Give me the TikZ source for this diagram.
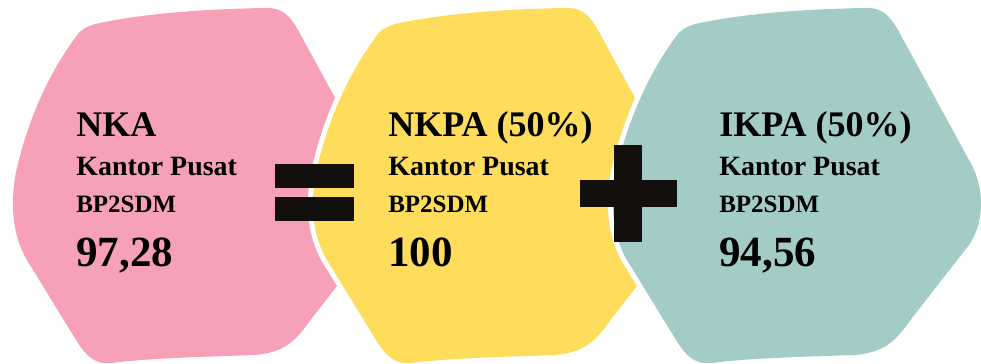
\documentclass[tikz,border=0pt]{standalone}
\usepackage{fontspec}
\setmainfont{Liberation Serif}
\usepackage{xcolor}
\definecolor{nkapink}{HTML}{F7A1B8}
\definecolor{nkpayellow}{HTML}{FEDD5D}
\definecolor{ikpateal}{HTML}{A3CCC6}
\definecolor{opblack}{HTML}{130F0D}
\begin{document}
\begin{tikzpicture}[
  x=0.02cm, y=-0.02cm,
  every node/.style={inner sep=0pt, anchor=base west, text=black},
  blob/.style={fill=#1, preaction={draw=white, line width=5.7pt}},
  ttl/.style={font=\bfseries\fontsize{20.5}{24}\selectfont},
  sub/.style={font=\bfseries\fontsize{15.9}{18}\selectfont},
  unit/.style={font=\bfseries\fontsize{14.2}{17}\selectfont},
  val/.style={font=\bfseries\fontsize{24.5}{29}\selectfont},
  bar/.style={fill=opblack}
]
\useasboundingbox (0,0) rectangle (981,364);

%% hexagon blobs
\foreach \dx/\col in {0/nkapink,300/nkpayellow,600/ikpateal}
  \path[blob=\col, shift={(\dx,0)}]
    (95,24) .. controls (150,12) and (215,9) .. (265,8)
    .. controls (282,7) and (290,16) .. (298,30)
    -- (369,160)
    .. controls (385,186) and (385,222) .. (369,245)
    -- (312,318)
    .. controls (295,342) and (285,352) .. (255,355)
    .. controls (200,357) and (150,358) .. (112,363)
    .. controls (95,365) and (86,356) .. (76,340)
    -- (30,265)
    .. controls (12,238) and (10,205) .. (16,172)
    .. controls (30,110) and (55,65) .. (75,38)
    .. controls (80,30) and (86,27) .. (95,24) -- cycle;

%% labels
\foreach \nm/\tx/\ttl/\val in {nka/76/NKA/{97,28},
                               nkpa/388/NKPA (50\%)/100,
                               ikpa/719/IKPA (50\%)/{94,56}}{
  \node[ttl]  (\nm-t) at (\tx,137) {\ttl};
  \node[sub]  (\nm-k) at (\tx,176) {Kantor Pusat};
  \node[unit] (\nm-b) at (\tx,213) {BP2SDM};
  \node[val]  (\nm-v) at (\tx,267) {\val};
}

%% operators
\fill[bar] (275,164) rectangle (354,188);
\fill[bar] (275,197) rectangle (354,221);
\fill[bar] (580,180) rectangle (677,207);
\fill[bar] (614,145) rectangle (642,242);
\end{tikzpicture}
\end{document}
